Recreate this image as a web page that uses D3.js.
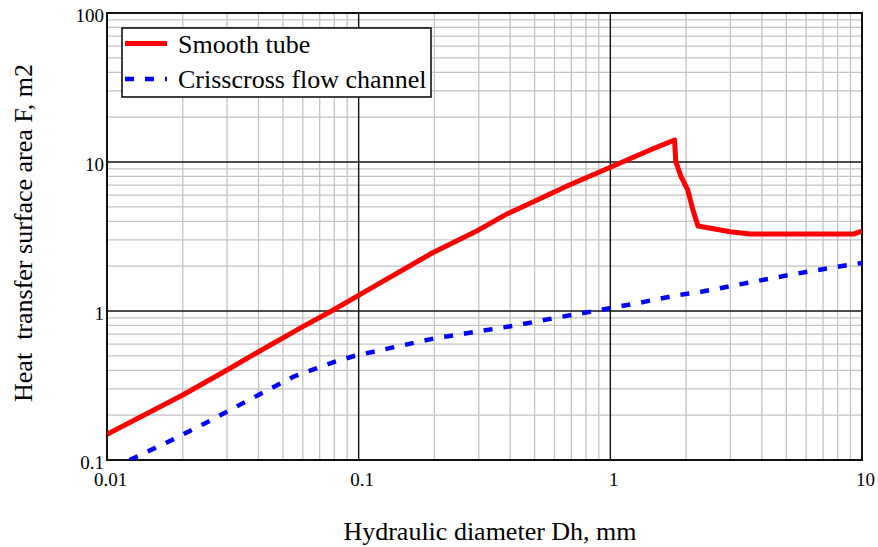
<!DOCTYPE html>
<html>
<head>
<meta charset="utf-8">
<script src="https://d3js.org/d3.v7.min.js"></script>
<style>
  body { margin: 0; background: #fff; }
  svg { display: block; }
</style>
</head>
<body>
<svg></svg>
<script>
// values (Dh in mm, F in m2)
var smoothX = [0.01, 0.02, 0.03, 0.04, 0.06, 0.078, 0.106, 0.195, 0.3, 0.39, 0.5, 0.68, 0.98, 1.5, 1.8, 1.82, 1.91, 2.03, 2.13, 2.23, 2.44, 2.99, 3.6, 9.3, 9.8, 10];
var smoothY = [0.149, 0.273, 0.402, 0.533, 0.785, 1.0, 1.35, 2.44, 3.5, 4.5, 5.45, 6.95, 9.07, 12.4, 14.06, 10.05, 7.97, 6.49, 4.76, 3.72, 3.62, 3.40, 3.29, 3.29, 3.40, 3.42];

var crossX = [0.0123, 0.0181, 0.0261, 0.0376, 0.055, 0.0806, 0.0967, 0.201, 0.294, 0.43, 0.621, 0.91, 1.31, 1.86, 2.27, 3.13, 4.38, 6.12, 8.43, 10];
var crossY = [0.1, 0.136, 0.186, 0.259, 0.362, 0.457, 0.501, 0.656, 0.726, 0.805, 0.907, 1.015, 1.137, 1.28, 1.34, 1.49, 1.66, 1.84, 2.01, 2.10];

var xTickValues = [0.01, 0.1, 1, 10];
var xTickLabels = ['0.01', '0.1', '1', '10'];
var yTickValues = [0.1, 1, 10, 100];
var yTickLabels = ['0.1', '1', '10', '100'];

var seriesNames = ['Smooth tube', 'Crisscross flow channel'];

var FONT = '"Liberation Serif", "Times New Roman", serif';
var W = 878, H = 547;
var m = {left: 107, right: 16, top: 13, bottom: 87};
var iw = W - m.left - m.right, ih = H - m.top - m.bottom;

var svg = d3.select('svg').attr('width', W).attr('height', H);

var x = d3.scaleLog().domain([0.01, 10]).range([0, iw]);
var y = d3.scaleLog().domain([0.1, 100]).range([ih, 0]);

var g = svg.append('g').attr('transform', `translate(${m.left},${m.top})`);

function isDecade(v) {
  var l = Math.log10(v);
  return Math.abs(l - Math.round(l)) < 1e-6;
}

// minor grid
g.append('g').selectAll('line')
  .data(x.ticks().filter(v => !isDecade(v)))
  .enter().append('line')
  .attr('x1', d => x(d)).attr('x2', d => x(d))
  .attr('y1', 0).attr('y2', ih)
  .style('stroke', '#c3c3c3').style('stroke-width', 1.3);

g.append('g').selectAll('line')
  .data(y.ticks().filter(v => !isDecade(v)))
  .enter().append('line')
  .attr('y1', d => y(d)).attr('y2', d => y(d))
  .attr('x1', 0).attr('x2', iw)
  .style('stroke', '#c3c3c3').style('stroke-width', 1.3);

// major grid
g.append('g').selectAll('line')
  .data(xTickValues)
  .enter().append('line')
  .attr('x1', d => x(d)).attr('x2', d => x(d))
  .attr('y1', 0).attr('y2', ih)
  .style('stroke', '#111').style('stroke-width', 1.4);

g.append('g').selectAll('line')
  .data(yTickValues)
  .enter().append('line')
  .attr('y1', d => y(d)).attr('y2', d => y(d))
  .attr('x1', 0).attr('x2', iw)
  .style('stroke', '#111').style('stroke-width', 1.4);

// frame
g.append('rect')
  .attr('width', iw).attr('height', ih)
  .style('fill', 'none').style('stroke', '#111').style('stroke-width', 2);

// tick labels
var xAxis = d3.axisBottom(x).tickValues(xTickValues)
  .tickFormat((d, i) => xTickLabels[i]).tickSize(0).tickPadding(0);
g.append('g').attr('transform', `translate(3,${ih})`).call(xAxis)
  .attr('font-family', FONT).attr('font-size', 19)
  .call(a => a.select('.domain').remove())
  .selectAll('text')
  .attr('y', 26).attr('dy', 0).attr('fill', '#000');

var yAxis = d3.axisLeft(y).tickValues(yTickValues)
  .tickFormat((d, i) => yTickLabels[i]).tickSize(0).tickPadding(0);
g.append('g').attr('transform', 'translate(-3,2)').call(yAxis)
  .attr('font-family', FONT).attr('font-size', 19)
  .call(a => a.select('.domain').remove())
  .selectAll('text')
  .attr('x', 0).attr('fill', '#000');

// curves
g.append('clipPath').attr('id', 'plot-clip')
  .append('rect').attr('width', iw).attr('height', ih);

var line = d3.line().x(d => x(d[0])).y(d => y(d[1]));

g.append('path')
  .datum(d3.zip(smoothX, smoothY))
  .attr('d', line)
  .attr('clip-path', 'url(#plot-clip)')
  .style('fill', 'none').style('stroke', '#ff0000')
  .style('stroke-width', 5).style('stroke-linejoin', 'round');

g.append('path')
  .datum(d3.zip(crossX, crossY))
  .attr('d', line)
  .attr('clip-path', 'url(#plot-clip)')
  .style('fill', 'none').style('stroke', '#0000ff')
  .style('stroke-width', 4.5).style('stroke-dasharray', '9,11');

// legend
var lg = svg.append('g').attr('transform', 'translate(122,28)');
lg.append('rect')
  .attr('width', 309).attr('height', 69)
  .style('fill', '#fff').style('stroke', '#111').style('stroke-width', 1.6);

lg.append('line')
  .attr('x1', 3).attr('x2', 45).attr('y1', 15.5).attr('y2', 15.5)
  .style('stroke', '#ff0000').style('stroke-width', 5);
lg.append('line')
  .attr('x1', 3).attr('x2', 45).attr('y1', 51).attr('y2', 51)
  .style('stroke', '#0000ff').style('stroke-width', 4.5).style('stroke-dasharray', '9,11');

lg.selectAll('text.leg')
  .data(seriesNames)
  .enter().append('text')
  .attr('class', 'leg')
  .attr('x', 56).attr('y', (d, i) => 25 + i * 34.5)
  .attr('font-family', FONT).attr('font-size', 26)
  .text(d => d);

// axis titles
svg.append('text')
  .attr('x', 490).attr('y', 540)
  .attr('text-anchor', 'middle')
  .attr('font-family', FONT).attr('font-size', 26)
  .text('Hydraulic diameter Dh, mm');

svg.append('text')
  .attr('transform', 'translate(32,233) rotate(-90)')
  .attr('text-anchor', 'middle')
  .attr('font-family', FONT).attr('font-size', 26)
  .style('white-space', 'pre')
  .text('Heat  transfer surface area F, m2');
</script>
</body>
</html>
